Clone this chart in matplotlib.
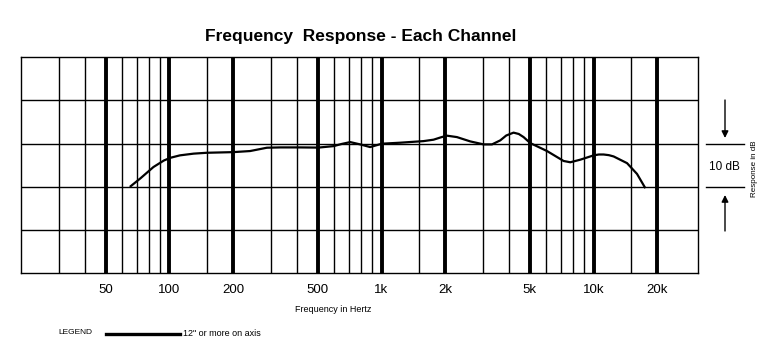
import matplotlib
matplotlib.use("Agg")
import matplotlib.pyplot as plt
from matplotlib.lines import Line2D

plt.rcParams['font.family'] = ['Liberation Sans', 'DejaVu Sans']

# ---- data ----
freq_hz = [65, 73, 84, 94, 101, 112, 130, 150, 200, 240, 288, 333, 413, 504,
           594, 650, 712, 793, 884, 1004, 1225, 1578, 1760, 1913, 2035, 2268,
           2622, 3030, 3320, 3632, 3876, 4196, 4440, 4678, 5032, 6034, 7226,
           7770, 8662, 10010, 10590, 11160, 11810, 12440, 14390, 16040, 17560]
response_db = [-10.0, -8.0, -5.4, -3.9, -3.26, -2.7, -2.3, -2.1, -1.95, -1.7,
               -0.93, -0.86, -0.86, -0.9, -0.56, -0.05, 0.37, -0.16, -0.78,
               0.0, 0.23, 0.6, 0.93, 1.5, 1.86, 1.53, 0.53, -0.16, -0.16, 0.77,
               1.9, 2.56, 2.25, 1.53, 0.14, -1.7, -4.0, -4.3, -3.7, -2.7,
               -2.5, -2.5, -2.65, -2.95, -4.5, -7.0, -10.3]

major_freqs = [50, 100, 200, 500, 1000, 2000, 5000, 10000, 20000]
major_labels = ["50", "100", "200", "500", "1k", "2k", "5k", "10k", "20k"]
minor_freqs = [30, 40, 60, 70, 80, 90, 150, 300, 400, 600, 700, 800, 900,
               1500, 3000, 4000, 6000, 7000, 8000, 9000, 15000]
db_gridlines = [-20, -10, 0, 10]

title = "Frequency  Response - Each Channel"
xlabel = "Frequency in Hertz"
ylabel = "Response in dB"
legend_label = '12" or more on axis'

W, H = 773, 356
fig = plt.figure(figsize=(W / 100, H / 100), dpi=100)
ax = fig.add_axes([21.3 / W, 1 - 273.3 / H, (697.7 - 21.3) / W, (273.3 - 57.3) / H])
ax.set_xscale('log')
ax.set_xlim(20, 31000)
ax.set_ylim(-30, 20)

for f in minor_freqs:
    ax.axvline(f, color='black', lw=1.0, zorder=1)
for f in major_freqs:
    ax.axvline(f, color='black', lw=2.8, zorder=1)
for d in db_gridlines:
    ax.axhline(d, color='black', lw=1.0, zorder=1)

ax.plot(freq_hz, response_db, color='black', lw=1.6, zorder=3,
        solid_capstyle='butt', solid_joinstyle='round')

ax.set_xticks(major_freqs)
ax.set_xticklabels(major_labels, fontsize=9.5)
ax.xaxis.set_minor_locator(matplotlib.ticker.NullLocator())
ax.tick_params(axis='x', length=0, pad=8)
ax.set_yticks([])
for s in ax.spines.values():
    s.set_linewidth(1.0)
    s.set_color('black')

# overlay for annotations in pixel coordinates
ov = fig.add_axes([0, 0, 1, 1], facecolor='none')
ov.set_xlim(0, W)
ov.set_ylim(H, 0)
ov.axis('off')

ov.text(361, 37, title, ha='center', va='center', fontsize=12.5, fontweight='bold')
ov.text(333, 310, xlabel, ha='center', va='center', fontsize=6.5)

# 10 dB scale marker
ov.add_line(Line2D([706, 744], [143.5, 143.5], color='black', lw=1.0))
ov.add_line(Line2D([706, 744], [187, 187], color='black', lw=1.0))
ov.annotate('', xy=(725, 138), xytext=(725, 100),
            arrowprops=dict(arrowstyle='-|>', color='black', lw=1.0,
                            mutation_scale=10, shrinkA=0, shrinkB=0))
ov.annotate('', xy=(725, 195), xytext=(725, 231),
            arrowprops=dict(arrowstyle='-|>', color='black', lw=1.0,
                            mutation_scale=10, shrinkA=0, shrinkB=0))
ov.text(724, 167, "10 dB", ha='center', va='center', fontsize=8.5)
ov.text(754, 169, ylabel, ha='center', va='center', fontsize=5.8, rotation=90)

# legend
ov.text(58, 332, "LEGEND", ha='left', va='center', fontsize=6)
ov.add_line(Line2D([106, 180], [334, 334], color='black', lw=2.4))
ov.text(183, 334, legend_label, ha='left', va='center', fontsize=6.5)

fig.savefig("out.png", dpi=100)
